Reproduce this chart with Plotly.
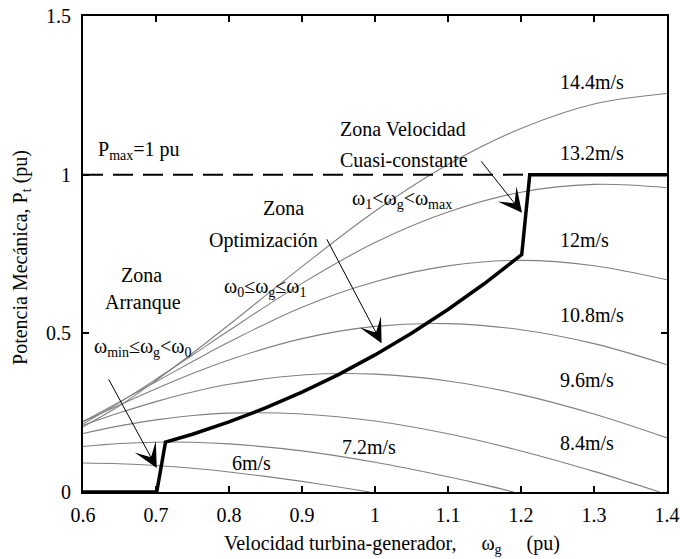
import plotly.graph_objects as go

# ---- data ----
w_6 = [0.6, 0.65, 0.7, 0.75, 0.8, 0.85, 0.9, 0.95, 0.993]
p_6 = [0.0913, 0.0891, 0.0836, 0.0749, 0.0632, 0.0493, 0.0335, 0.0160, 0.0]

w_72 = [0.6, 0.65, 0.7, 0.75, 0.8, 0.9, 1.0, 1.1, 1.15, 1.19]
p_72 = [0.1432, 0.1528, 0.1570, 0.1567, 0.1515, 0.1295, 0.0936, 0.0479, 0.0224, 0.0]

w_84 = [0.6, 0.65, 0.7, 0.75, 0.8, 0.9, 1.0, 1.1, 1.2, 1.3, 1.35, 1.39]
p_84 = [0.1844, 0.2084, 0.2274, 0.2409, 0.2485, 0.2459, 0.2235, 0.1833, 0.1293, 0.0650, 0.0295, 0.0]

w_grid = [0.6, 0.65, 0.7, 0.75, 0.8, 0.9, 1.0, 1.1, 1.2, 1.3, 1.4]
p_96 = [0.2104, 0.2495, 0.2848, 0.3151, 0.3394, 0.3685, 0.3713, 0.3498, 0.3069, 0.2456, 0.1704]
p_108 = [0.2223, 0.2740, 0.3252, 0.3732, 0.4162, 0.4832, 0.5218, 0.5306, 0.5114, 0.4675, 0.4009]
p_12 = [0.2219, 0.2840, 0.3475, 0.4110, 0.4725, 0.5825, 0.6628, 0.7125, 0.7300, 0.7132, 0.6687]
p_132 = [0.2149, 0.2820, 0.3554, 0.4316, 0.5087, 0.6575, 0.7861, 0.8822, 0.9448, 0.9693, 0.9590]
p_144 = [0.2056, 0.2718, 0.3516, 0.4371, 0.5269, 0.7102, 0.8845, 1.0318, 1.1454, 1.2227, 1.2558]

# operating (control) curve
w_op = [0.6, 0.701, 0.713, 0.75, 0.8, 0.85, 0.9, 0.95, 1.0, 1.05, 1.1, 1.15, 1.201, 1.212, 1.4]
p_op = [0.0, 0.0, 0.157, 0.182, 0.221, 0.265, 0.315, 0.370, 0.432, 0.500, 0.575, 0.657, 0.748, 1.0, 1.0]

# P max line
w_pmax = [0.6, 1.212]
p_pmax = [1.0, 1.0]

speed_labels = ["6m/s", "7.2m/s", "8.4m/s", "9.6m/s", "10.8m/s", "12m/s", "13.2m/s", "14.4m/s"]
speed_label_x = [0.801, 0.952, 1.251, 1.251, 1.251, 1.251, 1.251, 1.251]
speed_label_y = [0.0915, 0.142, 0.155, 0.353, 0.558, 0.795, 1.069, 1.293]

x_ticks = [0.6, 0.7, 0.8, 0.9, 1.0, 1.1, 1.2, 1.3, 1.4]
x_ticktext = ["0.6", "0.7", "0.8", "0.9", "1", "1.1", "1.2", "1.3", "1.4"]
y_ticks = [0, 0.5, 1, 1.5]
y_ticktext = ["0", "0.5", "1", "1.5"]

FONT = "Liberation Serif, Times New Roman, serif"
GRAY = "#808080"

fig = go.Figure()

curves = [(w_6, p_6), (w_72, p_72), (w_84, p_84), (w_grid, p_96), (w_grid, p_108),
          (w_grid, p_12), (w_grid, p_132), (w_grid, p_144)]
for wx, py in curves:
    fig.add_trace(go.Scatter(x=wx, y=py, mode="lines",
                             line=dict(color=GRAY, width=1.1, shape="spline", smoothing=1.0),
                             hoverinfo="skip", showlegend=False))

fig.add_trace(go.Scatter(x=w_pmax, y=p_pmax, mode="lines",
                         line=dict(color="black", width=2, dash="20px,10px"),
                         hoverinfo="skip", showlegend=False))

fig.add_trace(go.Scatter(x=w_op, y=p_op, mode="lines",
                         line=dict(color="black", width=3.5),
                         hoverinfo="skip", showlegend=False, cliponaxis=False))

ann = []
tfont = dict(family=FONT, size=20, color="black")
for t, x, y in zip(speed_labels, speed_label_x, speed_label_y):
    ann.append(dict(x=x, y=y, xref="x", yref="y", text=t, showarrow=False,
                    xanchor="left", yanchor="middle", font=tfont))

texts = [
    ("P<sub>max</sub>=1 pu", 0.6178, 1.076, "left"),
    ("Zona", 0.6795, 0.6845, "center"),
    ("Arranque", 0.682, 0.598, "center"),
    ("ω<sub>min</sub>≤ω<sub>g</sub>&lt;ω<sub>0</sub>", 0.6123, 0.455, "left"),
    ("Zona", 0.8753, 0.896, "center"),
    ("Optimización", 0.8466, 0.792, "center"),
    ("ω<sub>0</sub>≤ω<sub>g</sub>≤ω<sub>1</sub>", 0.7904, 0.645, "left"),
    ("ω<sub>1</sub>&lt;ω<sub>g</sub>&lt;ω<sub>max</sub>", 0.9658, 0.921, "left"),
    ("Zona Velocidad", 0.9493, 1.145, "left"),
    ("Cuasi-constante", 0.9493, 1.047, "left"),
]
for t, x, y, xa in texts:
    ann.append(dict(x=x, y=y, xref="x", yref="y", text=t, showarrow=False,
                    xanchor=xa, yanchor="middle", font=tfont))

arrows = [
    ((0.701, 0.076), (0.634, 0.360)),
    ((1.009, 0.469), (0.933, 0.801)),
    ((1.2014, 0.880), (1.1438, 1.047)),
]
for (tx, ty), (sx, sy) in arrows:
    ann.append(dict(x=tx, y=ty, ax=sx, ay=sy, xref="x", yref="y", axref="x", ayref="y",
                    text="", showarrow=True, arrowhead=3, arrowsize=4, arrowwidth=1,
                    arrowcolor="black", standoff=0, startstandoff=0))

# axis titles
ann.append(dict(x=(222 - 83) / 584, y=-0.111, xref="paper", yref="paper",
                text="Velocidad turbina-generador,&nbsp;&nbsp;&nbsp;&nbsp;&nbsp;ω<sub>g</sub>&nbsp;&nbsp;&nbsp;&nbsp;&nbsp;(pu)",
                showarrow=False, xanchor="left", yanchor="middle", font=tfont))
ann.append(dict(x=-0.1045, y=0.4937, xref="paper", yref="paper",
                text="Potencia Mecánica, P<sub>t</sub> (pu)", showarrow=False, textangle=-90,
                xanchor="center", yanchor="middle", font=tfont))

axis_common = dict(showline=True, linecolor="black", linewidth=2, mirror="ticks",
                   ticks="inside", ticklen=6, tickwidth=1.5, tickcolor="black",
                   showgrid=False, zeroline=False, automargin=False,
                   ticklabeloverflow="allow",
                   tickfont=dict(family=FONT, size=20, color="black"))

fig.update_layout(
    width=680, height=559,
    margin=dict(l=83, r=13, t=16, b=67),
    paper_bgcolor="white", plot_bgcolor="white",
    xaxis=dict(range=[0.6, 1.4], tickvals=x_ticks, ticktext=x_ticktext,
               ticklabelstandoff=4, **axis_common),
    yaxis=dict(range=[0, 1.5], tickvals=y_ticks, ticktext=y_ticktext,
               ticklabelstandoff=6, **axis_common),
    annotations=ann,
    showlegend=False,
)

fig.write_html("out.html", config={"displayModeBar": False},
               post_script="document.body.style.margin='0px';")
